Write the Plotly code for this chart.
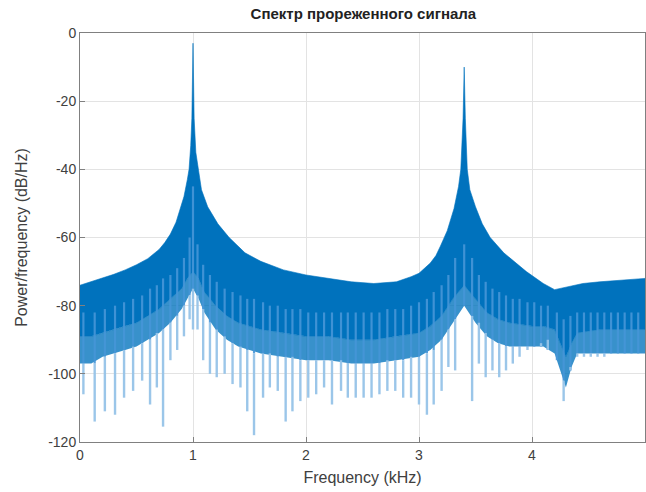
import plotly.graph_objects as go

# Upper envelope of the periodogram (kHz, dB/Hz)
env_f = [0.0, 0.1, 0.2, 0.3, 0.4, 0.5, 0.6, 0.7, 0.75, 0.8, 0.85, 0.88, 0.92, 0.95, 0.965, 0.98, 0.99,
         1.0, 1.01, 1.025, 1.045, 1.075, 1.13, 1.22, 1.32, 1.46, 1.6, 1.8, 2.0, 2.2, 2.4, 2.6, 2.8,
         2.93, 3.0, 3.1, 3.15, 3.19, 3.25, 3.31, 3.35, 3.37, 3.39, 3.40, 3.41, 3.427, 3.45, 3.50, 3.56,
         3.63, 3.75, 3.95, 4.1, 4.2, 4.3, 4.45, 4.6, 4.8, 5.0]
env_upper = [-74, -73, -72, -70.8, -69.5, -68, -66.2, -63.5, -61.5, -59, -55.5, -52.5, -48, -43, -40, -33, -25,
             -3, -25, -35, -40, -46, -51, -56, -60, -64.5, -67, -69.5, -71, -72, -73, -73.5, -73,
             -71.5, -70.5, -67.5, -65.3, -62.5, -58, -51.5, -45, -40, -25, -10, -25, -40, -46, -51, -56,
             -60, -64.5, -70, -73.5, -75.3, -74.5, -73.5, -73, -72.5, -72]

# Lower edge of the solid band and of the textured band
low_f = [0, 0.1, 0.2, 0.3, 0.4, 0.5, 0.6, 0.7, 0.8, 0.9, 0.95, 1.0, 1.05, 1.1, 1.2, 1.3, 1.4, 1.6, 1.8,
         2.0, 2.2, 2.4, 2.6, 2.8, 3.0, 3.1, 3.2, 3.3, 3.4, 3.5, 3.6, 3.7, 3.8, 4.0, 4.1, 4.2, 4.25,
         4.3, 4.35, 4.4, 4.6, 4.8, 5.0]
dark_lower = [-89, -89, -88, -87, -86, -85, -83, -81, -78, -75, -72, -70, -72, -76, -80, -83, -85, -87, -88,
              -89, -89, -90, -90, -89, -88, -86, -83, -78, -74, -78, -82, -84, -85, -86, -86, -87, -91,
              -95, -91, -88, -87, -87, -87]
mid_lower = [-97, -97, -95, -94, -93, -92, -90, -88, -85, -81, -78, -75, -78, -82, -87, -90, -92, -94, -95,
             -96, -96, -97, -97, -96, -95, -93, -90, -85, -80, -85, -89, -91, -92, -92, -92, -94, -99,
             -104, -98, -94, -94, -94, -94]

# Spectral nulls (spikes): frequency, start level, level where it leaves the band, tip level
spike_f = [0.03, 0.13, 0.22, 0.31, 0.39, 0.47, 0.55, 0.62, 0.68, 0.735, 0.80, 0.86, 0.92, 0.97, 1.0,
           1.04, 1.09, 1.15, 1.21, 1.28, 1.35, 1.42, 1.48, 1.54, 1.62, 1.68, 1.75, 1.82, 1.88, 1.95,
           2.02, 2.09, 2.16, 2.23, 2.31, 2.37, 2.44, 2.51, 2.58, 2.65, 2.72, 2.79, 2.86, 2.93, 3.00,
           3.07, 3.13, 3.20, 3.26, 3.32, 3.40, 3.47, 3.53, 3.59, 3.65, 3.71, 3.77, 3.83, 3.89, 3.96,
           4.02, 4.08, 4.14, 4.22, 4.28, 4.34, 4.40, 4.46, 4.52, 4.58, 4.64, 4.70, 4.76, 4.82, 4.88, 4.94]
spike_top = [-82, -82, -81, -80, -79, -78, -77, -75, -74, -72, -71, -69, -66, -60, -45,
             -62, -68, -71, -73, -75, -76, -77, -78, -78, -79, -80, -80, -81, -81, -81,
             -82, -82, -82, -82, -82, -82, -82, -82, -82, -82, -81, -81, -81, -80, -79,
             -78, -76, -74, -71, -66, -62, -66, -71, -73, -75, -76, -77, -78, -78, -79,
             -79, -80, -80, -82, -84, -83, -82, -82, -82, -82, -82, -82, -82, -82, -82, -82]
spike_mid = [-97, -97, -95, -94, -93, -92, -91, -90, -88, -87, -85, -83, -80, -77, -75,
             -77, -81, -85, -87, -89, -91, -92, -93, -94, -94, -94, -95, -95, -95, -96,
             -96, -96, -96, -96, -96, -97, -97, -97, -97, -97, -96, -96, -96, -95, -95,
             -94, -93, -90, -87, -84, -80, -83, -85, -88, -90, -91, -92, -92, -92, -92,
             -92, -92, -93, -96, -102, -99, -94, -94, -94, -94, -94, -94, -94, -94, -94, -94]
spike_tip = [-106, -114, -111, -112, -107, -105, -102, -109, -104, -115.5, -96, -93, -89, -84, -87,
             -87, -96, -100, -101, -100, -103, -104, -111, -118, -107, -104, -105, -114, -111, -108,
             -107, -106, -104, -109, -105, -107, -107, -107, -107, -106, -105, -105, -107, -107, -109,
             -112, -109, -105, -98, -99, -80, -108, -97, -101, -99, -101, -99, -97, -95, -93,
             -92, -91, -90, -96, -108, -98, -95, -95, -95, -95, -95, -94, -94, -94, -94, -94]

x_ticks = [0, 1, 2, 3, 4, 5]
y_ticks = [-120, -100, -80, -60, -40, -20, 0]

BLUE = "#0072BD"

fig = go.Figure()

# textured lower band
fig.add_trace(go.Scatter(
    x=low_f + low_f[::-1], y=dark_lower + mid_lower[::-1],
    fill="toself", fillcolor="rgba(0,114,189,0.78)", line=dict(width=0),
    mode="lines", hoverinfo="skip", showlegend=False))

# solid band
fig.add_trace(go.Scatter(
    x=env_f + low_f[::-1], y=env_upper + dark_lower[::-1],
    fill="toself", fillcolor=BLUE, line=dict(width=0.6, color=BLUE),
    mode="lines", hoverinfo="skip", showlegend=False))

# spikes: part inside the band, then pale tail below it
ux, uy, lx, ly = [], [], [], []
for f, t, m, b in zip(spike_f, spike_top, spike_mid, spike_tip):
    ux += [f, f, None]
    uy += [t, m, None]
    lx += [f, f, None]
    ly += [m, b, None]
fig.add_trace(go.Scatter(
    x=ux, y=uy, mode="lines", line=dict(color="rgba(70,150,215,0.9)", width=2.2),
    hoverinfo="skip", showlegend=False))
fig.add_trace(go.Scatter(
    x=lx, y=ly, mode="lines", line=dict(color="rgba(150,195,232,0.95)", width=2.4),
    hoverinfo="skip", showlegend=False))

fig.update_layout(
    width=646, height=492,
    margin=dict(l=80, r=1, t=33, b=50),
    paper_bgcolor="white", plot_bgcolor="white",
    font=dict(family="Liberation Sans, Arial, sans-serif", size=14, color="#404040"),
    title=dict(text="<b>Спектр прореженного сигнала</b>", x=0.5625, xanchor="center",
               y=0.972, yanchor="middle", font=dict(size=15, color="#222222")),
    showlegend=False,
)
fig.update_xaxes(
    range=[0, 5], tickvals=x_ticks, ticktext=[str(v) for v in x_ticks],
    showgrid=True, gridcolor="#e3e3e3", gridwidth=1, zeroline=False,
    showline=True, linecolor="#808080", linewidth=1, mirror=True,
    ticks="inside", ticklen=5, tickcolor="#808080",
    title=dict(text="Frequency (kHz)", standoff=10, font=dict(size=16, color="#404040")),
)
fig.update_yaxes(
    range=[-120, 0], tickvals=y_ticks, ticktext=[str(v) for v in y_ticks],
    showgrid=True, gridcolor="#e3e3e3", gridwidth=1, zeroline=False,
    showline=True, linecolor="#808080", linewidth=1, mirror=True,
    ticks="inside", ticklen=5, tickcolor="#808080",
    title=dict(text="Power/frequency (dB/Hz)", standoff=16, font=dict(size=16, color="#404040")),
)

fig.write_html("out.html")
